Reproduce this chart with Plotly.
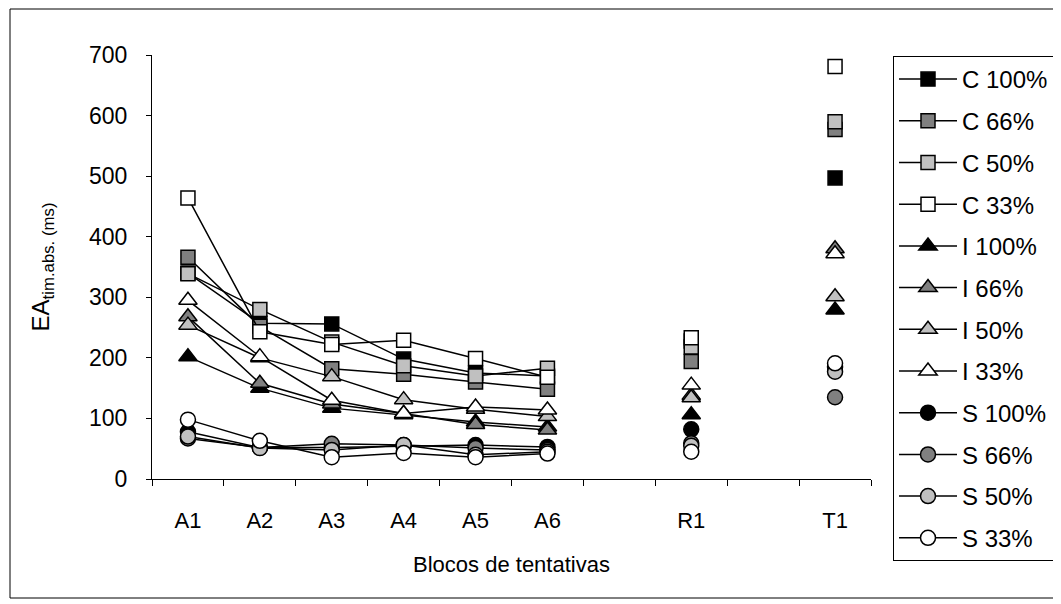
import plotly.graph_objects as go

categories = ["A1", "A2", "A3", "A4", "A5", "A6", " ", "R1", "  ", "T1"]

C100 = [340, 257, 256, 198, 175, 170, None, 228, None, 497]
C66 = [366, 252, 182, 173, 160, 148, None, 194, None, 577]
C50 = [339, 280, 226, 187, 170, 183, None, 218, None, 590]
C33 = [464, 243, 222, 229, 199, 168, None, 233, None, 681]

I100 = [202, 150, 117, 106, 94, 86, None, 106, None, 279]
I66 = [268, 158, 124, 108, 90, 81, None, 138, None, 380]
I50 = [254, 200, 169, 131, 115, 103, None, 134, None, 301]
I33 = [295, 202, 130, 108, 119, 114, None, 155, None, 372]

S100 = [78, 52, 52, 54, 56, 53, None, 82, None, 185]
S66 = [67, 52, 58, 56, 51, 48, None, 59, None, 135]
S50 = [70, 51, 48, 56, 40, 45, None, 55, None, 177]
S33 = [98, 63, 36, 43, 36, 42, None, 45, None, 191]

series_names = ["C 100%", "C 66%", "C 50%", "C 33%",
                "I 100%", "I 66%", "I 50%", "I 33%",
                "S 100%", "S 66%", "S 50%", "S 33%"]
series_values = [C100, C66, C50, C33, I100, I66, I50, I33, S100, S66, S50, S33]
fills = ["#000000", "#808080", "#c0c0c0", "#ffffff"] * 3
symbols = ["square"] * 4 + ["triangle-up"] * 4 + ["circle"] * 4
sizes = [14] * 4 + [16] * 4 + [15] * 4

FONT = "Liberation Sans, Arial, sans-serif"

fig = go.Figure()
for name, vals, fc, sym, sz in zip(series_names, series_values, fills, symbols, sizes):
    fig.add_trace(go.Scatter(
        x=categories, y=vals, name=name, mode="lines+markers",
        connectgaps=False, legendgroup=name,
        line=dict(color="black", width=1.5),
        marker=dict(symbol=sym, size=sz, color=fc,
                    line=dict(color="black", width=1.5)),
    ))

# page body adds an 8px offset; work in figure coordinates
OFF = 8
W, H = 1061 - OFF, 604 - OFF
L, R, T, B = 152 - OFF, 871 - OFF, 55 - OFF, 479 - OFF

def px(x):
    return (x - OFF - L) / (R - L)

def py(y):
    return (B - (y - OFF)) / (B - T)

fig.update_layout(
    width=W, height=H,
    margin=dict(l=L, r=W - R, t=T, b=H - B, autoexpand=False),
    paper_bgcolor="white", plot_bgcolor="white",
    font=dict(family=FONT, size=22, color="black"),
    showlegend=True,
    legend=dict(
        x=px(893), y=py(56), xanchor="left", yanchor="top",
        bordercolor="black", borderwidth=1, bgcolor="white",
        font=dict(family=FONT, size=24, color="black"),
        tracegroupgap=7.5, itemwidth=58, maxheight=600,
    ),
    shapes=[dict(type="rect", xref="paper", yref="paper",
                 x0=px(10), x1=px(1070), y0=py(598), y1=py(9),
                 line=dict(color="black", width=1), layer="below")],
)

fig.update_xaxes(
    type="category", categoryorder="array", categoryarray=categories,
    range=[-0.5, len(categories) - 0.5],
    tickson="boundaries", ticks="outside", ticklen=6, tickcolor="black",
    showline=True, linecolor="black", linewidth=1,
    showgrid=False, zeroline=False,
    ticklabelstandoff=22,
    tickfont=dict(family=FONT, size=22),
    title=dict(text="Blocos de tentativas", standoff=24,
               font=dict(family=FONT, size=22)),
)
fig.update_yaxes(
    range=[0, 700], dtick=100, tick0=0,
    ticks="outside", ticklen=5, tickcolor="black",
    showline=True, linecolor="black", linewidth=1,
    showgrid=False, zeroline=False,
    ticklabelstandoff=14,
    tickfont=dict(family=FONT, size=23),
    title=dict(text="EA<sub>tim.abs. (ms)</sub>", standoff=32,
               font=dict(family=FONT, size=24)),
)

fig.write_html("out.html")
